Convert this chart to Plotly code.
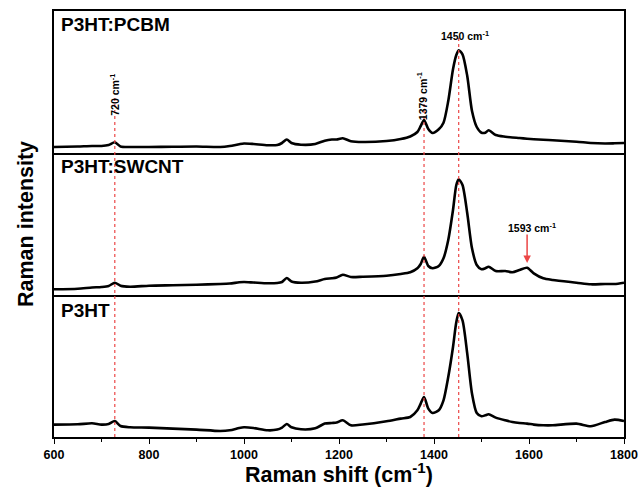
import plotly.graph_objects as go
from plotly.subplots import make_subplots

# Raman shift sample positions (cm^-1)
wavenumber = [600, 650, 680, 700, 715, 728, 740, 760, 800, 850, 900, 950, 970, 990, 1000,
              1020, 1050, 1070, 1080, 1090, 1100, 1120, 1150, 1170, 1185, 1195, 1208, 1225,
              1250, 1300, 1330, 1350, 1365, 1372, 1379, 1388, 1397, 1410, 1420, 1430, 1440,
              1447, 1452, 1460, 1470, 1480, 1490, 1500, 1508, 1515, 1530, 1550, 1565, 1580,
              1596, 1610, 1630, 1650, 1700, 1730, 1760, 1780, 1800]

# Intensities (arbitrary units)
int_pcbm = [6, 6.5, 7, 7, 8, 10.7, 6.5, 6, 6, 6.2, 6.5, 6, 7, 8.8, 9.5,
            9, 7.8, 8, 10, 13.5, 10, 8.3, 9, 12.3, 13.5, 13.5, 14.8, 11.8,
            11, 12, 14, 16.5, 21, 27, 33, 24, 20, 23.7, 30.3, 52, 83.7,
            98, 102.7, 98.7, 77, 42, 26, 20.3, 20.3, 22.7, 18, 16.3, 15.5, 15,
            14.3, 13.8, 13.2, 12.7, 11.3, 10, 9.5, 9.7, 10]

int_swcnt = [5.7, 6.3, 7.5, 8, 9, 12.3, 9.3, 8.3, 9.3, 9.8, 10.3, 11, 11.5, 12.7, 13,
             12.5, 11.7, 12, 13, 17, 13.5, 12.3, 13.5, 16, 16.7, 17.5, 20.3, 18,
             18.3, 19.3, 21, 22.7, 26.7, 31, 38.3, 29, 26.7, 29, 36.7, 55, 85,
             110, 115.7, 110, 81.7, 46.7, 30, 25.7, 26.7, 28.3, 24, 24, 22.7, 25,
             27.3, 21.7, 16.7, 15, 12.3, 10.7, 11, 11, 12.3]

int_p3ht = [12.4, 12.7, 13.7, 12.4, 13, 16, 11, 9.7, 9.4, 8.4, 7.4, 6, 6.7, 9, 9.7,
            9, 6.7, 7.4, 9.4, 13, 9.7, 7.7, 8.7, 13.4, 14, 14.4, 16.7, 11.7,
            12.5, 15.7, 18.4, 20, 26.7, 33.4, 40, 28.4, 24, 26.7, 36.7, 60, 90,
            115, 124, 116.7, 83.4, 43.4, 24, 20.7, 21.7, 22.7, 19.4, 16.7, 15, 14,
            13.4, 12.4, 11.7, 11.7, 13.4, 10.7, 15, 17.4, 16]

panel_names = ["P3HT:PCBM", "P3HT:SWCNT", "P3HT"]
marker_lines = [728, 1379, 1452]
marker_labels = ["720 cm<sup>-1</sup>", "1379 cm<sup>-1</sup>", "1450 cm<sup>-1</sup>"]
cnt_peak = 1596
cnt_label = "1593 cm<sup>-1</sup>"
x_ticks = [600, 800, 1000, 1200, 1400, 1600, 1800]

FONT = "Arial, Liberation Sans, sans-serif"
RED = "rgb(236,70,70)"

fig = make_subplots(rows=3, cols=1, shared_xaxes=True, vertical_spacing=0)
for i, ys in enumerate([int_pcbm, int_swcnt, int_p3ht]):
    fig.add_trace(go.Scatter(x=wavenumber, y=ys, mode="lines",
                             line=dict(color="black", width=2.6, shape="spline", smoothing=0.7),
                             showlegend=False, hoverinfo="skip"), row=i + 1, col=1)

for r in (1, 2, 3):
    fig.update_yaxes(row=r, col=1, range=[0, 142], showline=True, mirror=True,
                     linecolor="black", linewidth=1.8, showticklabels=False, ticks="",
                     showgrid=False, zeroline=False, automargin=False)
    fig.update_xaxes(row=r, col=1, range=[600, 1800], showline=True, mirror=(r == 1),
                     linecolor="black", linewidth=1.8, showgrid=False, zeroline=False,
                     automargin=False,
                     tickvals=x_ticks, ticks="outside" if r == 3 else "",
                     ticklen=5, tickwidth=1.4, tickcolor="black",
                     showticklabels=(r == 3),
                     minor=dict(dtick=100, ticks="outside" if r == 3 else "", ticklen=3,
                                tickwidth=1.2, tickcolor="black"))

fig.update_xaxes(row=3, col=1, ticklabelstandoff=0,
                 tickfont=dict(family=FONT, size=12.5, color="black", weight="bold"))

H = 426.0
def py(pix):
    return (437.0 - pix) / H

# dotted marker lines
line_tops = [97, 97, 35]
for xv, top in zip(marker_lines, line_tops):
    fig.add_shape(type="line", xref="x", yref="paper", x0=xv, x1=xv, y0=0, y1=py(top),
                  line=dict(color=RED, width=1.2, dash="dot"))

lab_font = dict(family=FONT, size=10.5, color="black", weight="bold")
fig.add_annotation(x=marker_lines[0], y=py(72), xref="x", yref="paper", text=marker_labels[0],
                   textangle=-90, showarrow=False, font=lab_font)
fig.add_annotation(x=marker_lines[1] - 6, y=py(70), xref="x", yref="paper", text=marker_labels[1],
                   textangle=-90, showarrow=False, font=lab_font)
fig.add_annotation(x=marker_lines[2] + 13, y=py(27), xref="x", yref="paper", text=marker_labels[2],
                   showarrow=False, font=lab_font)
fig.add_annotation(x=cnt_peak + 10, y=py(227), xref="x", yref="paper", text=cnt_label,
                   showarrow=False, font=lab_font)
fig.add_annotation(x=cnt_peak, y=py(263), xref="x", yref="paper", text="",
                   showarrow=True, ax=0, ay=-30, arrowhead=2, arrowsize=1,
                   arrowwidth=1.5, arrowcolor=RED)

# panel labels
name_font = dict(family=FONT, size=19, color="black", weight="bold")
for name, cy in zip(panel_names, [24.5, 166, 310]):
    fig.add_annotation(x=(59 - 54) / 570.0, y=py(cy), xref="paper", yref="paper",
                       text=name, showarrow=False, xanchor="left", yanchor="middle",
                       font=name_font)

# axis titles
title_font = dict(family=FONT, size=21.5, color="black", weight="bold")
fig.add_annotation(x=(26 - 54) / 570.0, y=0.5, xref="paper", yref="paper",
                   text="Raman intensity", textangle=-90, showarrow=False,
                   xanchor="center", yanchor="middle", font=title_font)
fig.add_annotation(x=0.5, y=py(473), xref="paper", yref="paper",
                   text="Raman shift (cm<sup>-1</sup>)", showarrow=False,
                   xanchor="center", yanchor="middle", font=title_font)

fig.update_layout(width=638, height=487, margin=dict(l=54, r=14, t=11, b=50),
                  plot_bgcolor="white", paper_bgcolor="white")

fig.write_html("out.html", config={"displayModeBar": False},
               post_script="document.body.style.margin='0';document.body.style.overflow='hidden';")
